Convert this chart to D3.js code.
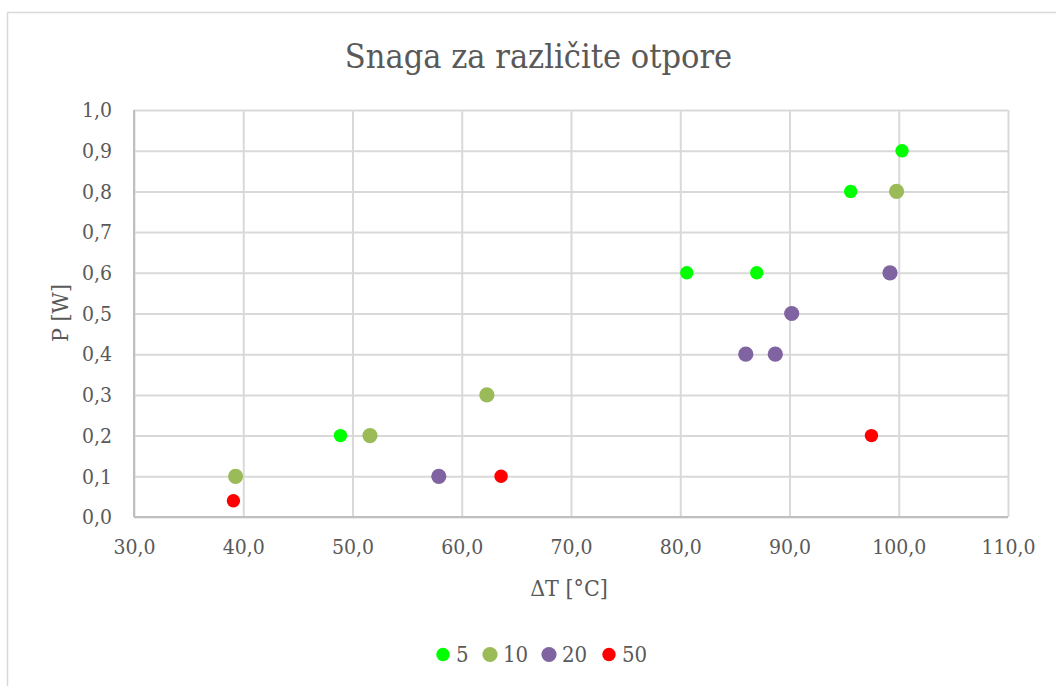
<!DOCTYPE html>
<html><head><meta charset="utf-8">
<script src="https://cdn.jsdelivr.net/npm/d3@7"></script>
<style>
body{margin:0;background:#fff;}
text{font-family:"DejaVu Serif";font-stretch:condensed;fill:#595959;}
</style></head>
<body><svg id="c" width="1056" height="686"></svg>
<script>
const seriesNames = ["5","10","20","50"];
const seriesColors = ["#00FF00","#9BBB59","#8064A2","#FF0000"];
const s5x = [48.9, 80.6, 87.0, 95.6, 100.3];
const s5y = [0.2, 0.6, 0.6, 0.8, 0.9];
const s10x = [39.3, 51.6, 62.3, 99.8];
const s10y = [0.1, 0.2, 0.3, 0.8];
const s20x = [57.9, 86.0, 88.7, 90.2, 99.2];
const s20y = [0.1, 0.4, 0.4, 0.5, 0.6];
const s50x = [39.1, 63.6, 97.5];
const s50y = [0.04, 0.1, 0.2];
const xTicks = [30,40,50,60,70,80,90,100,110];
const yTicks = [0,0.1,0.2,0.3,0.4,0.5,0.6,0.7,0.8,0.9,1.0];
const title = "Snaga za različite otpore";
const xLabel = "ΔT [°C]";
const yLabel = "P [W]";

const series = [
  {name:seriesNames[0], color:seriesColors[0], xs:s5x, ys:s5y, r:6.7},
  {name:seriesNames[1], color:seriesColors[1], xs:s10x, ys:s10y, r:7.6},
  {name:seriesNames[2], color:seriesColors[2], xs:s20x, ys:s20y, r:7.6},
  {name:seriesNames[3], color:seriesColors[3], xs:s50x, ys:s50y, r:6.7}
];

const svg = d3.select("#c");
const fmt = v => v.toFixed(1).replace(".", ",");

// chart frame
svg.append("rect").attr("x",7.5).attr("y",12.5).attr("width",1070).attr("height",700)
  .attr("fill","#fff").attr("stroke","#d9d9d9").attr("stroke-width",1.5);

const x = d3.scaleLinear().domain([30,110]).range([134,1008]);
const y = d3.scaleLinear().domain([0,1]).range([517,110]);

// gridlines
const gx = svg.append("g").attr("transform","translate(0,517)")
  .call(d3.axisBottom(x).tickValues(xTicks).tickSize(-407).tickFormat(""));
gx.selectAll("line").attr("stroke","#d9d9d9").attr("stroke-width",2);
gx.select(".domain").remove();
const gy = svg.append("g").attr("transform","translate(134,0)")
  .call(d3.axisLeft(y).tickValues(yTicks).tickSize(-874).tickFormat(""));
gy.selectAll("line").attr("stroke","#d9d9d9").attr("stroke-width",2);
gy.select(".domain").remove();

// axis lines
svg.append("line").attr("x1",134).attr("x2",1008).attr("y1",517).attr("y2",517).attr("stroke","#bfbfbf").attr("stroke-width",2);
svg.append("line").attr("x1",134).attr("x2",134).attr("y1",110).attr("y2",517).attr("stroke","#bfbfbf").attr("stroke-width",2);

// tick labels
const xl = svg.append("g").attr("transform","translate(0,517)")
  .call(d3.axisBottom(x).tickValues(xTicks).tickSize(0).tickPadding(22).tickFormat(fmt));
xl.select(".domain").remove();
xl.selectAll("text").attr("font-size",21).style("font-family","DejaVu Serif").attr("fill","#595959");
const yl = svg.append("g").attr("transform","translate(134,0)")
  .call(d3.axisLeft(y).tickValues(yTicks).tickSize(0).tickPadding(22).tickFormat(fmt));
yl.select(".domain").remove();
yl.selectAll("text").attr("font-size",21).style("font-family","DejaVu Serif").attr("fill","#595959");

// points
series.forEach(s => {
  svg.append("g").selectAll("circle").data(s.xs.map((v,i)=>[v,s.ys[i]])).join("circle")
    .attr("cx",d=>x(d[0])).attr("cy",d=>y(d[1])).attr("r",s.r).attr("fill",s.color);
});

// title
svg.append("text").attr("x",538.5).attr("y",68).attr("text-anchor","middle")
  .attr("font-size",34).text(title);
// axis titles
svg.append("text").attr("x",569).attr("y",596).attr("text-anchor","middle").attr("font-size",23).text(xLabel);
svg.append("text").attr("transform","translate(68,313) rotate(-90)").attr("text-anchor","middle").attr("font-size",23).text(yLabel);

// legend
const legX = [443, 490, 549, 609];
const lg = svg.append("g");
series.forEach((s,i)=>{
  lg.append("circle").attr("cx",legX[i]).attr("cy",654.5).attr("r",s.r).attr("fill",s.color);
  lg.append("text").attr("x",legX[i]+13).attr("y",662).attr("font-size",22).text(s.name);
});
</script></body></html>
